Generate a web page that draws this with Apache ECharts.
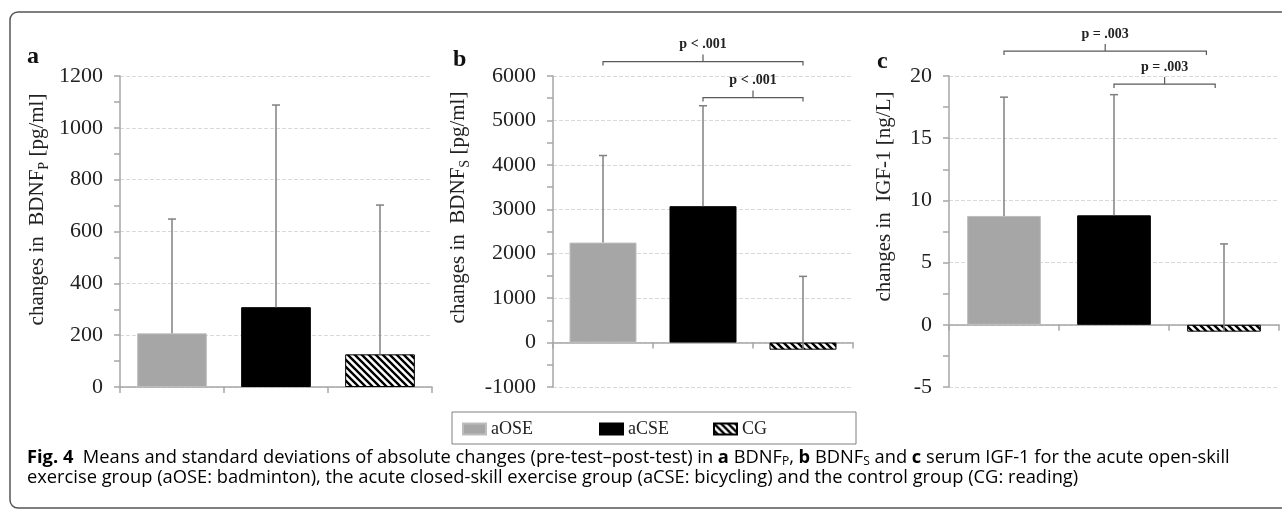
<!DOCTYPE html>
<html>
<head>
<meta charset="utf-8">
<script src="https://cdn.jsdelivr.net/npm/echarts@6/dist/echarts.min.js"></script>
<style>
  html, body { margin: 0; padding: 0; background: #fff; }
  #main { width: 1282px; height: 511px; }
</style>
</head>
<body>
<div id="main"></div>
<script>
var groups = ['aOSE', 'aCSE', 'CG'];

// a: BDNF plasma  [pg/ml]
var meanA = [207, 308, 126];
var sdA = [441, 780, 576];
// b: BDNF serum [pg/ml]
var meanB = [2250, 3070, -160];
var sdB = [1960, 2260, 1650];
// c: IGF-1 [ng/L]
var meanC = [8.75, 8.8, -0.55];
var sdC = [9.55, 9.7, 7.05];

// axis range: min, max, interval
var rangeA = [0, 1200, 200];
var rangeB = [-1000, 6000, 1000];
var rangeC = [-5, 20, 5];

// significance brackets: from group, to group (fractional = short of centre), level, text
var bracketsB = [[0, 2, 6325, 'p < .001'], [1, 2, 5515, 'p < .001']];
var bracketsC = [[0, 1.84, 22.0, 'p = .003'], [1, 1.92, 19.35, 'p = .003']];

var serif = '"Liberation Serif", "Times New Roman", serif';
var sans = '"Open Sans", "Noto Sans", sans-serif';

function hatch() {
    var c = document.createElement('canvas');
    c.width = 7; c.height = 7;
    var ctx = c.getContext('2d');
    ctx.fillStyle = '#fff';
    ctx.fillRect(0, 0, 7, 7);
    ctx.strokeStyle = '#000';
    ctx.lineWidth = 2.4;
    ctx.beginPath();
    ctx.moveTo(-1, -1); ctx.lineTo(8, 8);
    ctx.moveTo(-1, 6); ctx.lineTo(1, 8);
    ctx.moveTo(6, -1); ctx.lineTo(8, 1);
    ctx.stroke();
    return c;
}

var barStyles = [
    { color: '#a6a6a6', borderColor: '#bdbdbd', borderWidth: 1 },
    { color: '#000', borderColor: '#000', borderWidth: 1 },
    { color: { image: hatch(), repeat: 'repeat' }, borderColor: '#000', borderWidth: 1 }
];

var grids = [
    { left: 120, top: 76, width: 312, height: 311 },
    { left: 553, top: 76, width: 300, height: 311 },
    { left: 949, top: 76, width: 330, height: 311 }
];

function xAx(p) {
    return {
        type: 'category', gridIndex: p, data: groups,
        axisLine: { show: true, lineStyle: { color: '#a6a6a6', width: 1.5 } },
        axisTick: { show: true, length: 6, lineStyle: { color: '#a6a6a6', width: 1.5 } },
        axisLabel: { show: false },
        splitLine: { show: false }
    };
}

function yAx(p, r, name, gap, shift) {
    return {
        type: 'value', gridIndex: p, min: r[0], max: r[1], interval: r[2],
        name: name, nameLocation: 'middle', nameRotate: 90, nameGap: gap,
        nameTextStyle: {
            padding: [0, 0, 0, shift],
            rich: {
                t: { fontFamily: serif, fontSize: 21, color: '#222', lineHeight: 27 },
                s: { fontFamily: serif, fontSize: 14, color: '#222', lineHeight: 17, verticalAlign: 'bottom' }
            }
        },
        axisLine: { show: true, lineStyle: { color: '#a6a6a6', width: 1.5 } },
        axisTick: { show: true, length: 6, lineStyle: { color: '#a6a6a6', width: 1.5 } },
        minorTick: { show: true, splitNumber: 2, length: 6, lineStyle: { color: '#a6a6a6', width: 1.5 } },
        splitLine: { show: true, lineStyle: { color: '#d9d9d9', type: 'dashed' } },
        axisLabel: {
            fontFamily: serif, fontSize: 22, color: '#222', margin: 17,
            formatter: function (v) { return String(v); }
        }
    };
}

function barSeries(p, means) {
    return groups.map(function (g, i) {
        return {
            name: g, type: 'bar', xAxisIndex: p, yAxisIndex: p,
            stack: 'panel' + p, barWidth: '67%',
            data: means.map(function (v, j) { return j === i ? v : '-'; }),
            itemStyle: barStyles[i]
        };
    });
}

function errSeries(p, means, sds) {
    return {
        type: 'custom', xAxisIndex: p, yAxisIndex: p, silent: true, z: 5,
        data: means.map(function (m, i) { return [i, m, m + sds[i]]; }),
        renderItem: function (params, api) {
            var lo = api.coord([api.value(0), api.value(1)]);
            var hi = api.coord([api.value(0), api.value(2)]);
            var st = { stroke: '#808080', lineWidth: 1.5 };
            return {
                type: 'group',
                children: [
                    { type: 'line', shape: { x1: lo[0], y1: lo[1], x2: hi[0], y2: hi[1] }, style: st },
                    { type: 'line', shape: { x1: hi[0] - 4, y1: hi[1], x2: hi[0] + 4, y2: hi[1] }, style: st }
                ]
            };
        }
    };
}

function bracketSeries(p, list) {
    return {
        type: 'custom', xAxisIndex: p, yAxisIndex: p, silent: true, clip: false, z: 6,
        data: list.map(function (b) { return [b[0], b[2]]; }),
        renderItem: function (params, api) {
            var b = list[params.dataIndex];
            var band = api.size([1, 0])[0];
            var i0 = Math.floor(b[0]), i1 = Math.floor(b[1]);
            var p0 = api.coord([i0, b[2]]);
            var p1 = api.coord([i1, b[2]]);
            var x0 = p0[0] + (b[0] - i0) * band;
            var x1 = p1[0] + (b[1] - i1) * band;
            var y = p0[1];
            var xm = (x0 + x1) / 2;
            var st = { stroke: '#595959', lineWidth: 1.2, fill: null };
            return {
                type: 'group',
                children: [
                    { type: 'polyline', shape: { points: [[x0, y + 4], [x0, y], [x1, y], [x1, y + 4]] }, style: st },
                    { type: 'line', shape: { x1: xm, y1: y, x2: xm, y2: y - 7 }, style: st },
                    {
                        type: 'text', x: xm, y: y - 17,
                        style: {
                            text: b[3], fill: '#222', fontFamily: serif, fontWeight: 'bold', fontSize: 14,
                            align: 'center', verticalAlign: 'middle'
                        }
                    }
                ]
            };
        }
    };
}

// one legend per entry so the columns sit where the reference has them
function legendAt(name, left) {
    return {
        data: [name], left: left, top: 420,
        itemWidth: 23, itemHeight: 11, padding: 0,
        icon: 'rect', selectedMode: false,
        textStyle: { fontFamily: serif, fontSize: 18, color: '#222' }
    };
}

var capSize = 18.3;
var captionRich = {
    fb: { fontFamily: sans, fontWeight: 'bold', fontSize: capSize, color: '#231f20', lineHeight: 20 },
    n: { fontFamily: sans, fontSize: capSize, color: '#231f20', lineHeight: 20 },
    b: { fontFamily: sans, fontWeight: 'bold', fontSize: capSize, color: '#231f20', lineHeight: 20 },
    s: { fontFamily: sans, fontSize: 12, color: '#231f20', lineHeight: 14, verticalAlign: 'bottom' }
};

var line1 = '{fb|Fig. 4}{n|  Means and standard deviations of absolute changes (pre-test\u2013post-test) in }{b|a}{n| BDNF}{s|P}{n|, }{b|b}{n| BDNF}{s|S}{n| and }{b|c}{n| serum IGF-1 for the acute open-skill}';
var line2 = '{n|exercise group (aOSE: badminton), the acute closed-skill exercise group (aCSE: bicycling) and the control group (CG: reading)}';

var chart = echarts.init(document.getElementById('main'), null, { renderer: 'canvas' });

var option = {
    animation: false,
    backgroundColor: '#fff',
    grid: grids,
    xAxis: [xAx(0), xAx(1), xAx(2)],
    yAxis: [
        yAx(0, rangeA, '{t|changes in  BDNF}{s|P}{t| [pg/ml]}', 69, 44),
        yAx(1, rangeB, '{t|changes in  BDNF}{s|S}{t| [pg/ml]}', 81, 48),
        yAx(2, rangeC, '{t|changes in  IGF-1 [ng/L]}', 51, 70)
    ],
    legend: [legendAt('aOSE', 462), legendAt('aCSE', 599), legendAt('CG', 713)],
    graphic: [
        {
            type: 'rect', silent: true,
            shape: { x: 10, y: 12, width: 1300, height: 496, r: 8 },
            style: { fill: null, stroke: '#555', lineWidth: 1.5 }
        },
        {
            type: 'rect', silent: true,
            shape: { x: 452, y: 412, width: 404, height: 32 },
            style: { fill: null, stroke: '#808080', lineWidth: 1 }
        },
        { type: 'text', x: 27, y: 45, style: { text: 'a', font: 'bold 24px ' + serif, fill: '#111', verticalAlign: 'alphabetic' } },
        { type: 'text', x: 453, y: 48, style: { text: 'b', font: 'bold 24px ' + serif, fill: '#111', verticalAlign: 'alphabetic' } },
        { type: 'text', x: 877, y: 50, style: { text: 'c', font: 'bold 24px ' + serif, fill: '#111', verticalAlign: 'alphabetic' } },
        { type: 'text', x: 27, y: 458, style: { text: line1, rich: captionRich, verticalAlign: 'middle' } },
        { type: 'text', x: 27, y: 478, style: { text: line2, rich: captionRich, verticalAlign: 'middle' } }
    ],
    series: [].concat(
        barSeries(0, meanA), barSeries(1, meanB), barSeries(2, meanC),
        errSeries(0, meanA, sdA), errSeries(1, meanB, sdB), errSeries(2, meanC, sdC),
        bracketSeries(1, bracketsB), bracketSeries(2, bracketsC)
    )
};

chart.setOption(option);
</script>
</body>
</html>
